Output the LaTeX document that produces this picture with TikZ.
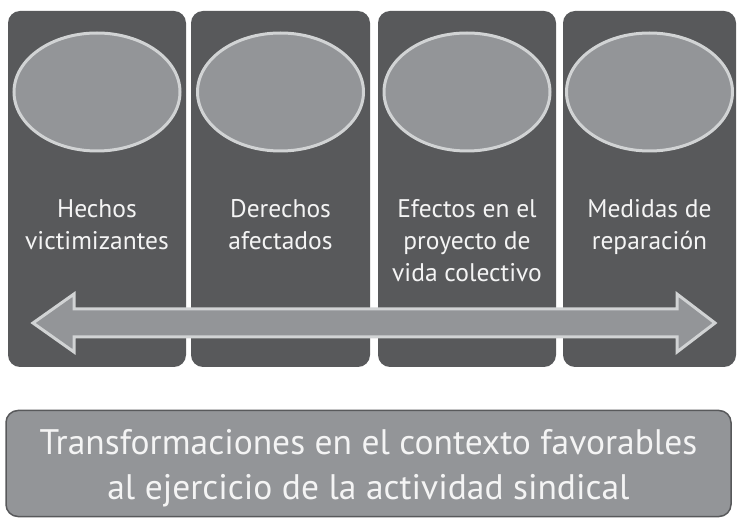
\documentclass[tikz,border=0pt]{standalone}
\usepackage{fontspec}
\setmainfont{PT Sans}
\usetikzlibrary{shapes.geometric}
\definecolor{coldark}{HTML}{58595B}
\definecolor{midgray}{HTML}{939598}
\definecolor{lightgray}{HTML}{D1D3D4}
\definecolor{txtwhite}{HTML}{F4F4F4}
\begin{document}
\begin{tikzpicture}[x=1pt,y=-1pt,
  colbox/.style={draw=none,fill=coldark,rounded corners=12pt,minimum height=356pt,inner sep=0pt},
  oval/.style={ellipse,fill=midgray,draw=lightgray,line width=3pt,minimum width=166pt,minimum height=118pt,inner sep=0pt},
  coltext/.style={text=txtwhite,align=center,font=\fontsize{25.5}{32}\selectfont,anchor=base,inner sep=0pt},
  bigarrow/.style={fill=midgray,draw=lightgray,line width=3pt,line join=miter},
  bottombox/.style={fill=midgray,draw=coldark,line width=1.5pt,rounded corners=12pt,minimum width=725pt,minimum height=106pt,inner sep=0pt},
  bottomtext/.style={text=txtwhite,align=center,font=\fontsize{35.5}{45}\selectfont,anchor=base,inner sep=0pt}]
\useasboundingbox (0,0) rectangle (737,521);
% columns
\node[colbox,minimum width=178pt] (c1) at (97,189) {};
\node[colbox,minimum width=179pt] (c2) at (280.5,189) {};
\node[colbox,minimum width=178pt] (c3) at (467,189) {};
\node[colbox,minimum width=173pt] (c4) at (649.5,189) {};
% ellipses
\node[oval] (e1) at (97,92) {};
\node[oval] (e2) at (280.5,92) {};
\node[oval] (e3) at (467,92) {};
\node[oval] (e4) at (649.5,92) {};
% texts (base anchor = baseline of last line)
\node[coltext] (t1) at (97,250) {Hechos\\victimizantes};
\node[coltext] (t2) at (280.5,250) {Derechos\\afectados};
\node[coltext] (t3) at (467,282) {Efectos en el\\proyecto de\\vida colectivo};
\node[coltext] (t4) at (649.5,250) {Medidas de\\reparación};
% double arrow
\draw[bigarrow] (33,323) -- (74,294) -- (74,309) -- (677,309) -- (677,294)
  -- (715,323) -- (677,352) -- (677,337) -- (74,337) -- (74,352) -- cycle;
% bottom box
\node[bottombox] (b) at (368.5,463.5) {};
\node[bottomtext] (bt) at (368.5,500) {Transformaciones en el contexto favorables\\al ejercicio de la actividad sindical};
\end{tikzpicture}
\end{document}
